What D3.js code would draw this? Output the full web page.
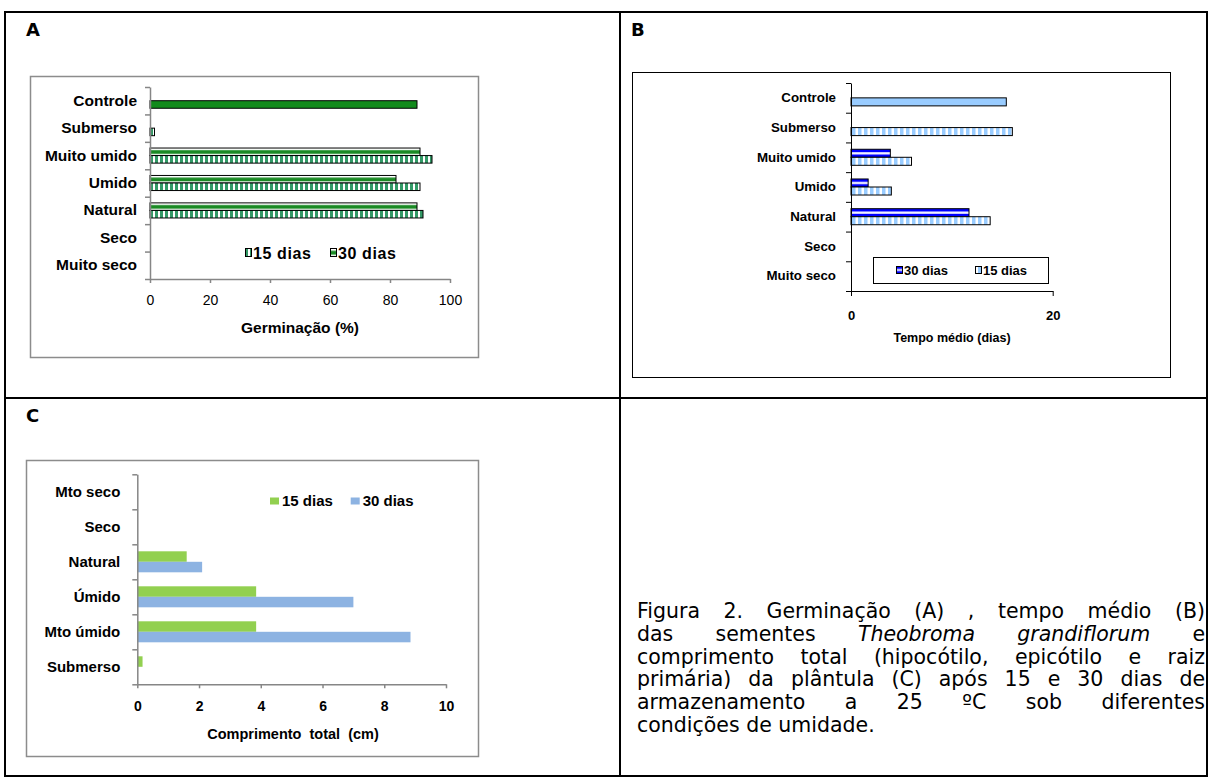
<!DOCTYPE html>
<html><head><meta charset="utf-8">
<script src="https://cdn.jsdelivr.net/npm/d3@7"></script>
<style>
body{margin:0;background:#fff;}
svg{font-family:"Liberation Sans",Arial,sans-serif;}
</style></head><body>
<script>
// ---------- DATA ----------
const catsA = ["Controle","Submerso","Muito umido","Umido","Natural","Seco","Muito seco"];
const a15 = [89, 1.5, 94, 90, 91, 0, 0];
const a30 = [0, 0, 90, 82, 89, 0, 0];
const ticksA = [0,20,40,60,80,100];

const catsB = ["Controle","Submerso","Muito umido","Umido","Natural","Seco","Muito seco"];
const b30 = [0, 0, 3.9, 1.7, 11.7, 0, 0];
const b15 = [15.4, 16.0, 6.0, 4.0, 13.8, 0, 0];
const ticksB = [0,20];

const catsC = ["Mto seco","Seco","Natural","Úmido","Mto úmido","Submerso"];
const c15 = [0, 0, 1.6, 3.85, 3.85, 0.17];
const c30 = [0, 0, 2.1, 7.0, 8.85, 0];
const ticksC = [0,2,4,6,8,10];

const captionLines = [
  "Figura 2. Germinação (A) , tempo médio (B)",
  "das sementes _Theobroma grandiflorum_ e",
  "comprimento total (hipocótilo, epicótilo e raiz",
  "primária) da plântula (C) após 15 e 30 dias de",
  "armazenamento a 25 ºC sob diferentes",
  "condições de umidade."
];

// ---------- SVG ----------
const svg = d3.select("body").append("svg").attr("width",1211).attr("height",782);
const defs = svg.append("defs");
function vStripe(id,color,period,on){
  const p = defs.append("pattern").attr("id",id).attr("patternUnits","userSpaceOnUse")
    .attr("width",period).attr("height",20);
  p.append("rect").attr("width",period).attr("height",20).attr("fill","#fff");
  p.append("rect").attr("width",on).attr("height",20).attr("fill",color);
}
function hStripe(id,bands){
  const p = defs.append("pattern").attr("id",id).attr("patternUnits","objectBoundingBox")
    .attr("patternContentUnits","objectBoundingBox").attr("width",1).attr("height",1);
  p.append("rect").attr("width",1).attr("height",1).attr("fill","#fff");
  bands.forEach(([a,b,c])=>p.append("rect").attr("y",a).attr("width",1).attr("height",b-a).attr("fill",c));
}
vStripe("aV","#339966",5,3);
hStripe("aH",[[0.28,0.78,"#1a8a24"]]);
vStripe("bV","#99ccff",6,3.5);
hStripe("bH",[[0,0.36,"#0000ff"],[0.64,1,"#0000ff"]]);

// outer table
const fr = svg.append("g").attr("stroke","#000").attr("stroke-width",2).attr("fill","none");
fr.append("rect").attr("x",5).attr("y",12).attr("width",1202).attr("height",764);
fr.append("line").attr("x1",620).attr("x2",620).attr("y1",12).attr("y2",776);
fr.append("line").attr("x1",5).attr("x2",1207).attr("y1",398).attr("y2",398);

// panel letters
[["A",26,36],["B",631,36],["C",26,422]].forEach(([t,x,y])=>
  svg.append("text").attr("x",x).attr("y",y).text(t)
    .style("font-family","'DejaVu Sans',Verdana,sans-serif").style("font-weight","bold").style("font-size","18px"));

// chart boxes
svg.append("rect").attr("x",30.5).attr("y",76.5).attr("width",448).attr("height",281).attr("fill","none").attr("stroke","#8c8c8c").attr("stroke-width",1.5);
svg.append("rect").attr("x",632.5).attr("y",72.5).attr("width",538).attr("height",305).attr("fill","none").attr("stroke","#000").attr("stroke-width",1);
svg.append("rect").attr("x",26.5).attr("y",460.5).attr("width",452).attr("height",296).attr("fill","none").attr("stroke","#8c8c8c").attr("stroke-width",1.5);

function hbar(cfg){
  const g = svg.append("g");
  const x = d3.scaleLinear().domain(cfg.xDomain).range(cfg.xRange);
  const y = d3.scaleBand().domain(cfg.cats).range(cfg.yRange).paddingInner(cfg.pad).paddingOuter(cfg.pad/2);
  const sub = d3.scaleBand().domain(cfg.series.map(s=>s.key)).range([0,y.bandwidth()]);
  cfg.series.forEach(s=>{
    g.append("g").selectAll("rect")
      .data(cfg.cats.map((c,i)=>({c,i,v:s.values[i]})).filter(d=>d.v>0))
      .join("rect")
      .attr("x",x(0)).attr("y",d=>y(d.c)+sub(s.key))
      .attr("width",d=>x(d.v)-x(0)).attr("height",sub.bandwidth())
      .attr("fill",d=>s.fill(d.i)).attr("stroke",cfg.barStroke||"none").attr("stroke-width",1);
  });
  const xa = g.append("g").attr("transform",`translate(0,${cfg.yRange[1]})`)
    .call(d3.axisBottom(x).tickValues(cfg.xTicks).tickSize(cfg.tickLen).tickSizeOuter(0).tickPadding(cfg.xPad));
  const yb = d3.scaleLinear().domain([0,cfg.cats.length]).range(cfg.yRange);
  const ya = g.append("g").attr("transform",`translate(${cfg.xRange[0]},0)`)
    .call(d3.axisLeft(yb).tickValues(d3.range(cfg.cats.length+1)).tickFormat("").tickSize(5).tickSizeOuter(0));
  const yl = g.append("g").attr("transform",`translate(${cfg.xRange[0]},0)`)
    .call(d3.axisLeft(y).tickSize(0).tickPadding(cfg.yPad));
  yl.select(".domain").remove();
  [xa,ya].forEach(a=>{a.selectAll("path,line").attr("stroke",cfg.axisColor).attr("stroke-width",cfg.axisW||1);});
  xa.selectAll("text").attr("fill","#000").style("font-size",cfg.xFont).style("font-weight",cfg.xBold?"bold":"normal").style("font-family","'Liberation Sans',Arial,sans-serif");
  yl.selectAll("text").attr("fill","#000").style("font-size",cfg.yFont).style("font-weight","bold").style("font-family","'Liberation Sans',Arial,sans-serif");
  g.append("text").attr("x",cfg.title[1]).attr("y",cfg.title[2]).attr("text-anchor","middle")
    .attr("dy","0.35em").style("font-weight","bold").style("font-size",cfg.titleFont)
    .style("white-space","pre").attr("xml:space","preserve").text(cfg.title[0]);
  return {g,x,y};
}

// Panel A
hbar({cats:catsA, xDomain:[0,100], xRange:[150,450], yRange:[87,279], pad:0.45,
  series:[{key:"30",values:a30,fill:()=> "url(#aH)"},
          {key:"15",values:a15,fill:i=> catsA[i]==="Controle" ? "#128a1c" : "url(#aV)"}],
  barStroke:"#000", xTicks:ticksA, tickLen:4, xPad:12, yPad:13, axisColor:"#868686", axisW:1.5,
  xFont:"14px", xBold:false, yFont:"15.5px", title:["Germinação (%)",300,328], titleFont:"15.5px"});
// Legend A
const legA = svg.append("g");
[["url(#aV)",245,"15 dias"],["url(#aH)",330,"30 dias"]].forEach(([f,x,t])=>{
  legA.append("rect").attr("x",x+0.5).attr("y",248.5).attr("width",6).attr("height",8).attr("fill",f).attr("stroke","#000");
  legA.append("text").attr("x",x+8).attr("y",253).attr("dy","0.35em").text(t)
    .style("font-weight","bold").style("font-size","16px").style("letter-spacing","0.6px");
});

// Panel B
hbar({cats:catsB, xDomain:[0,20], xRange:[851,1052.7], yRange:[83,291], pad:0.46,
  series:[{key:"30",values:b30,fill:()=> "url(#bH)"},
          {key:"15",values:b15,fill:i=> catsB[i]==="Controle" ? "#99ccff" : "url(#bV)"}],
  barStroke:"#000", xTicks:ticksB, tickLen:5, xPad:15, yPad:15, axisColor:"#000", axisW:1,
  xFont:"13px", xBold:true, yFont:"13.3px", title:["Tempo médio (dias)",952,338], titleFont:"12.5px"});
// Legend B
const legB = svg.append("g");
legB.append("rect").attr("x",873.5).attr("y",257.5).attr("width",175).attr("height",26).attr("fill","#fff").attr("stroke","#000");
[["url(#bH)",896,"30 dias"],["url(#bV)",975,"15 dias"]].forEach(([f,x,t])=>{
  legB.append("rect").attr("x",x+0.5).attr("y",266.5).attr("width",6).attr("height",7).attr("fill",f).attr("stroke","#000");
  legB.append("text").attr("x",x+8).attr("y",270.5).attr("dy","0.35em").text(t)
    .style("font-weight","bold").style("font-size","13px");
});

// Panel C
hbar({cats:catsC, xDomain:[0,10], xRange:[137.3,446], yRange:[474.3,684.3], pad:0.4,
  series:[{key:"15",values:c15,fill:()=> "#92d050"},
          {key:"30",values:c30,fill:()=> "#8db3e2"}],
  barStroke:null, xTicks:ticksC, tickLen:4, xPad:13, yPad:17, axisColor:"#868686", axisW:1.5,
  xFont:"14px", xBold:true, yFont:"15px", title:["Comprimento  total  (cm)",293,734], titleFont:"14.5px"});
// Legend C
const legC = svg.append("g");
[["#92d050",270,"15 dias"],["#8db3e2",350.7,"30 dias"]].forEach(([f,x,t])=>{
  legC.append("rect").attr("x",x).attr("y",497.5).attr("width",9).attr("height",7).attr("fill",f);
  legC.append("text").attr("x",x+12).attr("y",501).attr("dy","0.35em").text(t)
    .style("font-weight","bold").style("font-size","15px");
});

// Caption (justified)
const CAPFONT = "'DejaVu Sans',Verdana,sans-serif";
const cap = svg.append("g");
const X0 = 637, X1 = 1205, Y0 = 618, LH = 22.8;
function styleCap(sel,it){
  return sel.style("font-family",CAPFONT).style("font-size","20.5px").style("font-style",it?"italic":"normal");
}
function measure(t,it){
  const n = styleCap(cap.append("text"),it).text(t);
  const w = n.node().getComputedTextLength(); n.remove(); return w;
}
const spaceW = measure("a a",false)-measure("aa",false);
captionLines.forEach((line,li)=>{
  let italic=false;
  const words = line.split(" ").map(w=>{
    let it = italic, s = w;
    if(s.startsWith("_")){it=true; italic=true; s=s.slice(1);}
    if(s.endsWith("_")){s=s.slice(0,-1); italic=false;}
    return {s,it,w:0};
  });
  words.forEach(w=>w.w=measure(w.s,w.it));
  const tot = d3.sum(words,w=>w.w);
  const last = li===captionLines.length-1;
  const gap = last ? spaceW : (X1-X0-tot)/(words.length-1);
  let x = X0;
  words.forEach(w=>{
    styleCap(cap.append("text"),w.it).attr("x",x).attr("y",Y0+li*LH).attr("fill","#000").text(w.s);
    x += w.w+gap;
  });
});
</script>
</body></html>
